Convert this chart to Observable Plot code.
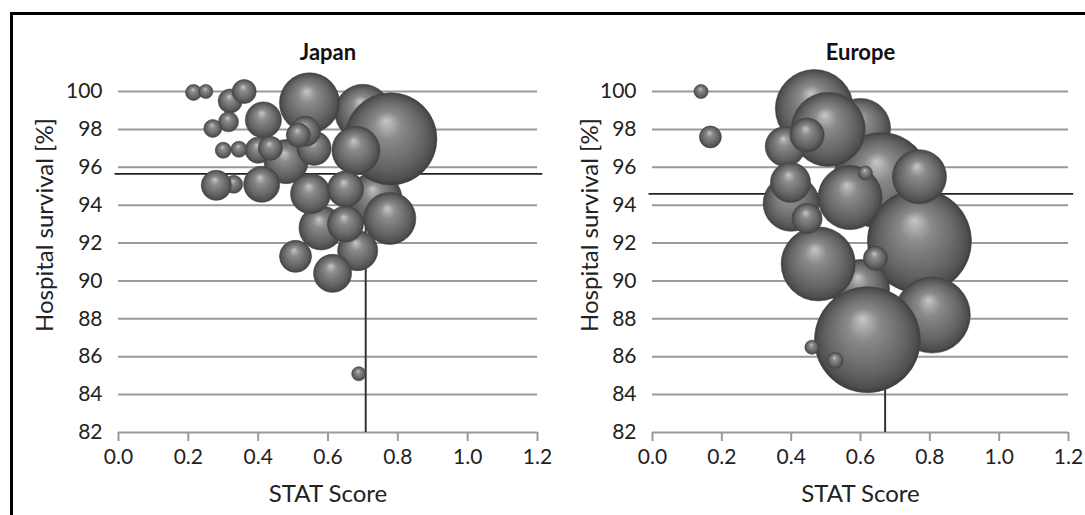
<!DOCTYPE html>
<html>
<head>
<meta charset="utf-8">
<script src="https://cdn.jsdelivr.net/npm/d3@7"></script>
<script src="https://cdn.jsdelivr.net/npm/@observablehq/plot@0.6"></script>
<style>
  html, body { margin: 0; padding: 0; background: #fff; }
  #wrap { position: relative; width: 1085px; height: 515px; overflow: hidden; }
  #frame { position: absolute; left: 10px; top: 12px; right: -5px; bottom: -5px;
           border-left: 3px solid #000; border-top: 3px solid #000; pointer-events: none; }
  .panel { position: absolute; top: 0; }
</style>
</head>
<body>
<div id="wrap">
  <div id="japan" class="panel" style="left:0px"></div>
  <div id="europe" class="panel" style="left:540px"></div>
  <div id="frame"></div>
</div>
<script>
// ---- Data, listed back-to-front ----
const panelTitles = ["Japan", "Europe"];
const xLabel = "STAT Score";
const yLabel = "Hospital survival [%]";
const xTicks = [0, 0.2, 0.4, 0.6, 0.8, 1.0, 1.2];
const yTicks = [82, 84, 86, 88, 90, 92, 94, 96, 98, 100];

// Japan: STAT score, hospital survival, relative volume (bubble size)
const japanScore    = [0.70, 0.735, 0.777, 0.78, 0.547, 0.68, 0.48, 0.58, 0.685, 0.55, 0.613, 0.415, 0.41, 0.65, 0.65, 0.56, 0.507, 0.33, 0.28, 0.535, 0.40, 0.32, 0.36, 0.435, 0.515, 0.315, 0.27, 0.215, 0.30, 0.345, 0.25, 0.688];
const japanSurvival = [98.9, 94.3, 93.3, 97.5, 99.4, 96.9, 96.3, 92.8, 91.6, 94.6, 90.4, 98.5, 95.1, 94.85, 93.0, 97.0, 91.3, 95.1, 95.05, 97.9, 96.9, 99.5, 100.0, 97.0, 97.7, 98.4, 98.05, 99.95, 96.9, 96.95, 100.0, 85.1];
const japanVolume   = [392, 365, 338, 1058, 450, 288, 242, 242, 200, 200, 180, 162, 162, 162, 162, 145, 128, 40, 113, 113, 85, 72, 72, 72, 72, 50, 40, 32, 32, 32, 25, 25];
const japanMean = {score: 0.708, survival: 95.65};

// Europe
const europeScore    = [0.60, 0.66, 0.77, 0.60, 0.807, 0.62, 0.467, 0.507, 0.40, 0.478, 0.57, 0.77, 0.383, 0.398, 0.446, 0.446, 0.643, 0.167, 0.14, 0.614, 0.46, 0.527];
const europeSurvival = [98.05, 95.3, 92.1, 89.6, 88.2, 86.9, 99.1, 98.0, 94.1, 90.9, 94.4, 95.5, 97.1, 95.2, 97.7, 93.3, 91.2, 97.6, 100.0, 95.7, 86.5, 85.8];
const europeVolume   = [450, 1150, 1350, 420, 722, 1400, 760, 685, 392, 685, 512, 365, 200, 200, 145, 113, 72, 60, 25, 25, 25, 32];
const europeMean = {score: 0.671, survival: 94.6};

function rows(xs, ys, vs) { return xs.map((x, i) => ({score: x, survival: ys[i], volume: vs[i]})); }

function addGradient(svg, id) {
  const ns = "http://www.w3.org/2000/svg";
  const defs = document.createElementNS(ns, "defs");
  defs.innerHTML = `
    <radialGradient id="${id}" cx="0.5" cy="0.5" r="0.5" fx="0.45" fy="0.3">
      <stop offset="0" stop-color="#c6c6c6"/>
      <stop offset="0.3" stop-color="#8a8a8a"/>
      <stop offset="0.75" stop-color="#636363"/>
      <stop offset="0.93" stop-color="#4e4e4e"/>
      <stop offset="1" stop-color="#3c3c3c"/>
    </radialGradient>`;
  svg.insertBefore(defs, svg.firstChild);
}

function panel({title, data, mean, marginLeft, marginRight, gradId, yLabelDx}) {
  const svg = Plot.plot({
    width: 545, height: 515,
    marginLeft, marginRight, marginTop: 91, marginBottom: 83,
    style: {fontFamily: "Lato, 'Open Sans', sans-serif", color: "#222", background: "transparent", overflow: "visible"},
    x: {domain: [0, 1.2]},
    y: {domain: [82, 100]},
    r: {type: "sqrt", domain: [0, 1400], range: [0, 53]},
    marks: [
      Plot.ruleY(yTicks.filter(d => d > 82), {stroke: "#9a9a9a", strokeWidth: 2}),
      Plot.ruleY([82], {stroke: "#9a9a9a", strokeWidth: 2}),
      Plot.axisX({ticks: xTicks, tickFormat: d3.format(".1f"), tickSize: 9, tickPadding: 8,
                  fontSize: 21, stroke: "#9a9a9a", strokeWidth: 2, label: null}),
      Plot.axisY({ticks: yTicks, tickSize: 0, tickPadding: 16, fontSize: 21, label: null}),
      Plot.ruleY([mean.survival], {stroke: "#222", strokeWidth: 1.8, x1: -0.01, x2: 1.215}),
      Plot.ruleX([mean.score], {stroke: "#333", strokeWidth: 2, y1: 82, y2: mean.survival}),
      Plot.dot(data, {x: "score", y: "survival", r: "volume", fill: `url(#${gradId})`, sort: null,
                      stroke: "#4a4a4a", strokeWidth: 0.6,
                      style: {filter: "drop-shadow(1px 2px 2px rgba(0,0,0,0.35))"}}),
      Plot.text([title], {frameAnchor: "top", lineAnchor: "middle", dy: -39, fontSize: 22, fontWeight: "bold", fill: "#111"}),
      Plot.text([xLabel], {frameAnchor: "bottom", lineAnchor: "middle", dy: 62, fontSize: 24, fill: "#222"}),
      Plot.text([yLabel], {frameAnchor: "left", textAnchor: "middle", lineAnchor: "middle", dx: yLabelDx, dy: -37, rotate: -90, fontSize: 24, fill: "#222"})
    ]
  });
  addGradient(svg, gradId);
  return svg;
}

document.getElementById("japan").appendChild(panel({
  title: panelTitles[0], data: rows(japanScore, japanSurvival, japanVolume), mean: japanMean,
  marginLeft: 118, marginRight: 8, gradId: "sphereJ", yLabelDx: -73
}));
document.getElementById("europe").appendChild(panel({
  title: panelTitles[1], data: rows(europeScore, europeSurvival, europeVolume), mean: europeMean,
  marginLeft: 112, marginRight: 17, gradId: "sphereE", yLabelDx: -62
}));
</script>
</body>
</html>
